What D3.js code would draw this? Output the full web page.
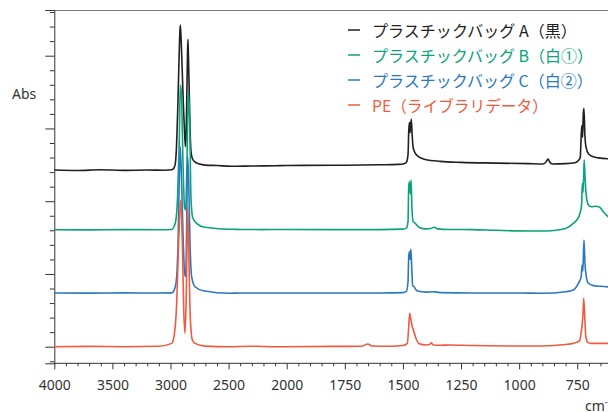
<!DOCTYPE html>
<html>
<head>
<meta charset="utf-8">
<script src="https://cdn.jsdelivr.net/npm/d3@7/dist/d3.min.js"></script>
<style>
  html, body { margin: 0; padding: 0; background: #fff; }
  svg { display: block; }
  .axis path, .axis line { stroke: #333; }
  .axis text { font-family: "Noto Sans", sans-serif; font-size: 14px; fill: #333; }
</style>
</head>
<body>
<div id="chart"></div>
<script>
/* IR spectra: plastic bags vs. PE library spectrum (stacked, x split at 2000 cm-1) */

const xMajorTicks = [4000, 3500, 3000, 2500, 2000, 1750, 1500, 1250, 1000, 750];
const legendLabels = [
  'プラスチックバッグ A（黒）',
  'プラスチックバッグ B（白①）',
  'プラスチックバッグ C（白②）',
  'PE（ライブラリデータ）'
];
const colors = ['#231f20', '#0aa37a', '#2a79c0', '#f05a3e'];

// [wavenumber, Abs (offset included)]
const bagA = [
  [4000,1.214],[3800,1.211],[3600,1.216],[3400,1.212],[3200,1.214],[3050,1.213],[2990,1.216],
  [2970,1.228],[2958,1.262],[2948,1.38],[2938,1.62],[2928,1.93],[2919,2.17],[2915,2.211],
  [2908,2.10],[2900,1.92],[2890,1.68],[2880,1.49],[2872,1.375],[2866,1.45],[2860,1.70],
  [2854,2.00],[2850,2.113],[2845,1.98],[2838,1.72],[2830,1.45],[2822,1.33],[2810,1.29],
  [2790,1.27],[2750,1.255],[2700,1.248],[2600,1.245],[2480,1.240],[2300,1.242],[2100,1.244],
  [2000,1.245],[1800,1.247],[1600,1.250],[1520,1.253],[1495,1.258],[1485,1.268],[1478,1.32],
  [1475,1.48],[1472,1.541],[1469,1.47],[1464,1.564],[1460,1.45],[1456,1.37],[1450,1.34],
  [1440,1.315],[1420,1.295],[1400,1.285],[1340,1.274],[1250,1.267],[1100,1.262],[960,1.258],
  [900,1.256],[885,1.268],[875,1.290],[868,1.268],[858,1.256],[800,1.258],[760,1.264],
  [745,1.280],[737,1.301],[733,1.45],[730,1.52],[727,1.44],[724,1.60],[721,1.638],
  [717,1.45],[712,1.370],[701,1.325],[680,1.305],[660,1.298],[600,1.290]
];
const bagB = [
  [4000,0.804],[3700,0.803],[3400,0.805],[3100,0.804],[2990,0.806],[2959,0.848],[2939,1.03],
  [2925,1.40],[2915,1.799],[2905,1.72],[2893,1.28],[2879,0.96],[2870,0.94],[2858,1.28],
  [2851,1.62],[2846,1.753],[2834,1.51],[2824,1.03],[2810,0.89],[2772,0.846],[2715,0.823],
  [2485,0.807],[2400,0.806],[2200,0.805],[2000,0.806],[1800,0.805],[1600,0.805],[1500,0.808],
  [1485,0.815],[1478,0.86],[1475,1.10],[1472,1.134],[1468,1.05],[1465,1.146],[1461,0.95],
  [1456,0.86],[1448,0.850],[1430,0.82],[1400,0.81],[1380,0.812],[1365,0.821],[1350,0.81],
  [1300,0.806],[1200,0.805],[1100,0.800],[950,0.795],[880,0.795],[820,0.805],[790,0.82],
  [767,0.848],[752,0.871],[738,0.917],[731,0.98],[728,1.123],[725,1.06],[722,1.20],
  [720,1.283],[716,1.15],[712,1.054],[702,0.974],[690,0.962],[670,0.965],[655,0.96],
  [638,0.928],[617,0.893],[600,0.87]
];
const bagC = [
  [4000,0.369],[3700,0.368],[3400,0.370],[3100,0.369],[2990,0.370],[2976,0.378],[2953,0.436],
  [2935,0.711],[2924,1.168],[2916,1.375],[2904,1.123],[2890,0.711],[2878,0.504],[2869,0.481],
  [2861,0.825],[2852,1.306],[2843,1.123],[2832,0.711],[2818,0.481],[2789,0.412],[2718,0.385],
  [2488,0.367],[2400,0.369],[2000,0.369],[1800,0.369],[1600,0.369],[1500,0.372],[1485,0.38],
  [1478,0.45],[1475,0.62],[1472,0.653],[1469,0.60],[1466,0.669],[1462,0.55],[1458,0.42],
  [1452,0.412],[1440,0.385],[1400,0.375],[1370,0.378],[1340,0.372],[1200,0.369],[1000,0.369],
  [900,0.367],[800,0.378],[767,0.39],[745,0.436],[733,0.48],[729,0.562],[726,0.52],
  [721,0.733],[717,0.58],[713,0.504],[702,0.436],[680,0.42],[650,0.415],[600,0.41]
];
const pe = [
  [4000,0.000],[3700,0.002],[3400,0.000],[3100,0.003],[2990,0.023],[2970,0.069],[2947,0.298],
  [2930,0.711],[2912,1.008],[2898,0.711],[2886,0.252],[2875,0.092],[2864,0.367],[2852,0.962],
  [2841,0.596],[2830,0.206],[2812,0.046],[2789,0.023],[2700,0.004],[2500,0.000],[2300,0.003],
  [2100,0.000],[2000,0.000],[1800,0.002],[1680,0.003],[1650,0.019],[1635,0.005],[1550,0.003],
  [1500,0.008],[1481,0.023],[1475,0.137],[1471,0.230],[1466,0.19],[1460,0.14],[1455,0.115],
  [1441,0.046],[1430,0.02],[1400,0.012],[1385,0.015],[1378,0.027],[1370,0.012],[1340,0.010],
  [1300,0.012],[1200,0.008],[1000,0.005],[900,0.005],[800,0.015],[767,0.023],[740,0.04],
  [733,0.10],[730,0.137],[725,0.23],[722,0.333],[717,0.18],[713,0.07],[705,0.03],[690,0.023],
  [600,0.023]
];
const spectra = [bagA, bagB, bagC, pe];
const legendEnds = [577, 593, 593, 548];   // right end of each legend text (px)

const W = 608, H = 412;
const svg = d3.select('#chart').append('svg').attr('width', W).attr('height', H);

// split axis: 4000-2000 compressed to half the scale of 2000-600
const x = d3.scaleLinear().domain([4000, 2000, 600]).range([54.3, 286.7, 612.1]);
const y = d3.scaleLinear().domain([-0.114, 2.314]).range([363.3, 10]);

const xMinor = d3.range(4000, 2000, -100).concat(d3.range(2000, 599, -50))
  .filter(v => !xMajorTicks.includes(v));
const yAll = d3.range(-1, 24).map(i => Math.round(i) / 10);
const yMajor = yAll.filter(v => Math.round(v * 10) % 5 === 0);
const yMinor = yAll.filter(v => Math.round(v * 10) % 5 !== 0);

// top frame line
svg.append('line').attr('x1', 54.3).attr('x2', W).attr('y1', 10.5).attr('y2', 10.5)
  .attr('stroke', '#7a7a7a').attr('stroke-width', 1);

const gx = svg.append('g').attr('class', 'axis').attr('transform', `translate(0,${y.range()[0]})`);
gx.call(d3.axisBottom(x).tickValues(xMajorTicks).tickSize(6).tickPadding(11).tickFormat(d3.format('d')));
gx.select('.domain').attr('d', `M${x(4000)},0H${W}`);
gx.append('g').call(d3.axisBottom(x).tickValues(xMinor).tickSize(3).tickFormat(''))
  .select('.domain').remove();

const gy = svg.append('g').attr('class', 'axis').attr('transform', `translate(${x(4000)},0)`);
gy.call(d3.axisLeft(y).tickValues(yMajor).tickSize(9).tickFormat(''));
gy.append('g').call(d3.axisLeft(y).tickValues(yMinor).tickSize(4.5).tickFormat(''))
  .select('.domain').remove();

svg.append('text').attr('x', 12).attr('y', 99)
  .style('font-family', '"Noto Sans", sans-serif').style('font-size', '14px').style('fill', '#333')
  .text('Abs');

const unit = svg.append('text').attr('x', 585).attr('y', 411)
  .style('font-family', '"Noto Sans", sans-serif').style('font-size', '14px').style('fill', '#333');
unit.append('tspan').text('cm');
unit.append('tspan').attr('dy', -6).style('font-size', '9px').text('-1');

const line = d3.line().x(d => x(d[0])).y(d => y(d[1])).curve(d3.curveMonotoneX);
svg.append('g').selectAll('path').data(spectra).join('path')
  .attr('d', line).attr('fill', 'none')
  .attr('stroke', (d, i) => colors[i]).attr('stroke-width', 1.6)
  .attr('stroke-linejoin', 'round');

// legend
const legX = 348, textX = 372;
const lg = svg.append('g').selectAll('g').data(legendLabels).join('g')
  .attr('transform', (d, i) => `translate(${legX},${30 + i * 25})`);
lg.append('line').attr('x1', 0).attr('x2', 12).attr('y1', 0).attr('y2', 0)
  .attr('stroke', (d, i) => colors[i]).attr('stroke-width', 1.5);
lg.append('text').attr('x', textX - legX).attr('y', 6.5)
  .style('font-family', '"Noto Sans CJK JP", sans-serif').style('font-size', '18px')
  .style('fill', (d, i) => colors[i])
  .text(d => d)
  .each(function(d, i) {
    // fit each label to the width it has in the original
    const w = this.getComputedTextLength();
    const target = legendEnds[i] - textX;
    if (w > 0) d3.select(this).style('font-size', (18 * target / w).toFixed(2) + 'px');
  });
</script>
</body>
</html>
